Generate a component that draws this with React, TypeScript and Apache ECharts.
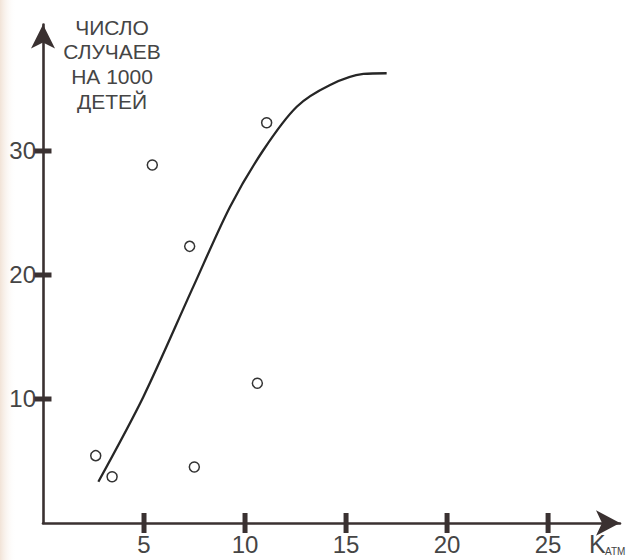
import React, { useEffect, useRef } from "react";
import * as echarts from "echarts";

const pointsX = [2.61, 3.42, 5.41, 7.26, 7.49, 10.61, 11.07];
const pointsY = [5.43, 3.73, 28.87, 22.31, 4.52, 11.27, 32.28];

const curveX = [2.74, 4.97, 7.44, 9.26, 10.91, 12.56, 14.21, 15.86, 17.01];
const curveY = [3.33, 10.19, 19.06, 25.51, 30.08, 33.57, 35.32, 36.21, 36.27];

const xTicks = [5, 10, 15, 20, 25];
const yTicks = [10, 20, 30];

const titleLines = ["ЧИСЛО", "СЛУЧАЕВ", "НА 1000", "ДЕТЕЙ"];
const xName = "K";
const xNameSub = "АТМ";

const FONT = "'Liberation Sans', Arial, sans-serif";
const AXIS = "#3a3131";
const TEXT = "#454545";

export default function App() {
  const ref = useRef<HTMLDivElement>(null);
  useEffect(() => {
    if (!ref.current) return;
    const chart = echarts.init(ref.current, null, { renderer: "svg" });
    chart.setOption({
      animation: false,
      backgroundColor: "#ffffff",
      grid: { left: 43, right: 15, top: 24.5, bottom: 37, containLabel: false },
      xAxis: {
        type: "value",
        min: 0,
        max: 28.56,
        interval: 5,
        splitLine: { show: false },
        axisTick: { show: false },
        axisLine: {
          show: true,
          onZero: false,
          symbol: ["none", "arrow"],
          symbolSize: [19, 24],
          lineStyle: { color: AXIS, width: 2.6 },
        },
        axisLabel: {
          margin: 9,
          fontSize: 24,
          fontFamily: FONT,
          color: TEXT,
          formatter: (v: number) => (xTicks.includes(v) ? String(v) : ""),
        },
      },
      yAxis: {
        type: "value",
        min: 0,
        max: 40.2,
        interval: 10,
        splitLine: { show: false },
        axisTick: { show: false },
        axisLine: {
          show: true,
          onZero: false,
          symbol: ["none", "arrow"],
          symbolSize: [18, 24],
          lineStyle: { color: AXIS, width: 2.6 },
        },
        axisLabel: {
          margin: 7,
          fontSize: 24,
          fontFamily: FONT,
          color: TEXT,
          formatter: (v: number) => (yTicks.includes(v) ? String(v) : ""),
        },
      },
      series: [
        {
          type: "line",
          data: curveX.map((x, i) => [x, curveY[i]]),
          smooth: 0.3,
          showSymbol: false,
          symbol: "none",
          lineStyle: { color: "#262626", width: 2.3 },
          z: 3,
        },
        {
          type: "scatter",
          data: pointsX.map((x, i) => [x, pointsY[i]]),
          symbol: "circle",
          symbolSize: 10,
          itemStyle: { color: "rgba(255,255,255,0)", borderColor: "#333", borderWidth: 1.5, opacity: 1 },
          z: 4,
        },
        {
          type: "scatter",
          data: xTicks.map((x) => [x, 0]),
          symbol: "rect",
          symbolSize: [5, 20],
          clip: false,
          itemStyle: { color: AXIS, opacity: 1 },
          z: 5,
        },
        {
          type: "scatter",
          data: yTicks.map((y) => [0, y]),
          symbol: "rect",
          symbolSize: [17, 5],
          clip: false,
          itemStyle: { color: AXIS, opacity: 1 },
          z: 5,
        },
      ],
      graphic: [
        {
          type: "rect",
          shape: { x: 0, y: 0, width: 16, height: 560 },
          style: {
            fill: new echarts.graphic.LinearGradient(0, 0, 1, 0, [
              { offset: 0, color: "rgba(238,220,205,0.8)" },
              { offset: 1, color: "rgba(255,255,255,0)" },
            ]),
          },
          silent: true,
          z: -1,
        },
        {
          type: "text",
          x: 112,
          y: 15,
          style: {
            text: titleLines.join("\n"),
            font: `21px ${FONT}`,
            lineHeight: 24.6,
            fill: TEXT,
            align: "center",
            verticalAlign: "top",
          },
        },
        {
          type: "text",
          x: 589,
          y: 544,
          style: { text: xName, font: `25px ${FONT}`, fill: TEXT, align: "left", verticalAlign: "middle" },
        },
        {
          type: "text",
          x: 605,
          y: 551,
          style: { text: xNameSub, font: `10px ${FONT}`, fill: TEXT, align: "left", verticalAlign: "middle" },
        },
      ],
    });
    return () => chart.dispose();
  }, []);
  return (
    <div
      ref={ref}
      style={{ position: "fixed", left: 0, top: 0, width: 635, height: 560 }}
    />
  );
}
